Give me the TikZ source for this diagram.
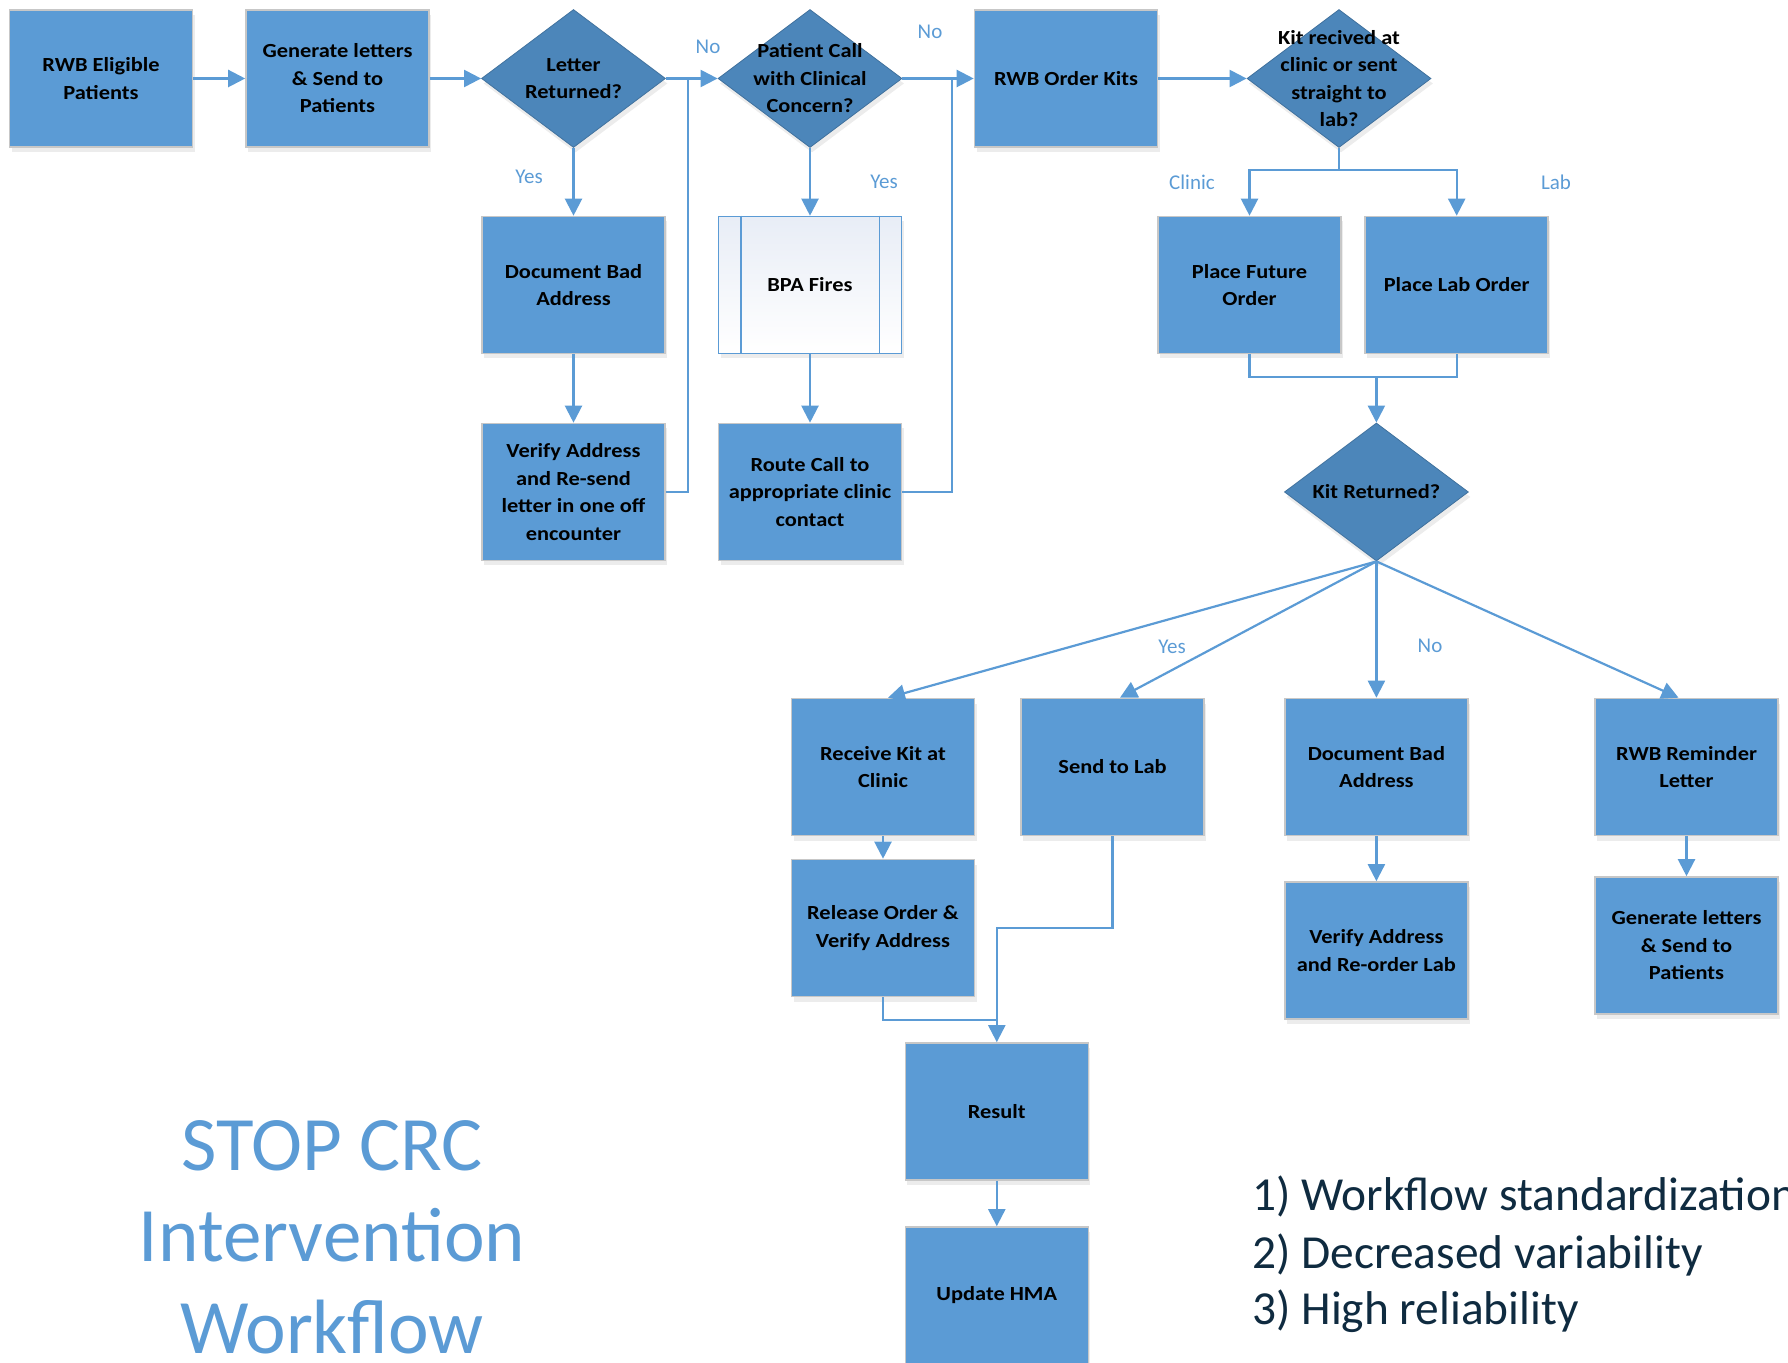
\documentclass[tikz,border=0pt]{standalone}
\usepackage{fontspec}
\setmainfont{Carlito}
\newfontfamily\boxfont[FakeStretch=1.12]{Carlito}
\usetikzlibrary{shapes.geometric,arrows.meta,shadows}
\definecolor{boxblue}{HTML}{5B9BD5}
\definecolor{diablue}{HTML}{4C86BA}
\definecolor{linecol}{HTML}{5B9BD5}
\definecolor{navy}{HTML}{0F2B40}
\definecolor{bpalight}{HTML}{E8EDF6}
\begin{document}
\begin{tikzpicture}[x=0.5pt,y=-0.5pt,
  box/.style={draw=black!22, line width=0.8pt, fill=boxblue, minimum width=91.5pt, minimum height=68.5pt,
    inner sep=0pt, align=center, font=\boxfont\bfseries\fontsize{10}{13.75}\selectfont,
    drop shadow={shadow xshift=1pt, shadow yshift=-2.5pt, opacity=0.15}},
  dia/.style={diamond, draw=diablue!85!black, line width=0.4pt, fill=diablue, minimum width=92pt,
    minimum height=69pt, inner sep=0pt, drop shadow={shadow xshift=1pt, shadow yshift=-2.5pt, opacity=0.15}},
  dtext/.style={align=center, inner sep=0pt, font=\boxfont\bfseries\fontsize{10}{13.75}\selectfont},
  conn/.style={draw=linecol, line width=1.1pt},
  arr/.style={conn, -{Triangle[length=8.5pt,width=8.5pt]}},
  lbl/.style={text=linecol, inner sep=0pt, font=\fontsize{10.5}{12}\selectfont},
  ttl/.style={text=boxblue, inner sep=0pt, anchor=base, font=\fontsize{38.5}{45}\selectfont},
  lst/.style={text=navy, inner sep=0pt, anchor=base west, font=\fontsize{23.7}{28}\selectfont},
]
\path[use as bounding box, clip] (0,0) rectangle (1788,1363);

% top row
\node[box] (A) at (101,78.5) {RWB Eligible\\Patients};
\node[box] (B) at (337.5,78.5) {Generate letters\\\& Send to\\Patients};
\node[dia] (C) at (573.5,78.5) {};
\node[dtext] (Ct) at (C) {Letter\\Returned?};
\node[dia] (D) at (810,78.5) {};
\node[dtext] (Dt) at (D) {Patient Call\\with Clinical\\Concern?};
\node[box] (G) at (1066,78.5) {RWB Order Kits};
\node[dia] (K) at (1339,78.5) {};
\node[dtext] (Kt) at (K) {Kit recived at\\clinic or sent\\straight to\\lab?};

% second / third rows
\node[box] (E) at (573.5,285) {Document Bad\\Address};
\node[box] (F) at (573.5,492) {Verify Address\\and Re-send\\letter in one off\\encounter};
\node[box, draw=linecol, shading=axis, shading angle=135, top color=bpalight, bottom color=white] (H) at (810,285) {BPA Fires};
\draw[draw=linecol, line width=0.8pt] ([xshift=11.5pt]H.north west) -- ([xshift=11.5pt]H.south west);
\draw[draw=linecol, line width=0.8pt] ([xshift=-11.5pt]H.north east) -- ([xshift=-11.5pt]H.south east);
\node[box] (I) at (810,492) {Route Call to\\appropriate clinic\\contact};
\node[box] (PFO) at (1249.5,285) {Place Future\\Order};
\node[box] (PLO) at (1456.7,285) {Place Lab Order};
\node[dia] (M) at (1376.4,492) {};
\node[dtext] (Mt) at (M) {Kit Returned?};

% bottom rows
\node[box] (R1) at (883,767) {Receive Kit at\\Clinic};
\node[box] (R2) at (1112.5,767) {Send to Lab};
\node[box] (R3) at (1376.4,767) {Document Bad\\Address};
\node[box] (R4) at (1686.5,767) {RWB Reminder\\Letter};
\node[box] (S1) at (883,928) {Release Order \&\\Verify Address};
\node[box] (S3) at (1376.4,950.5) {Verify Address\\and Re-order Lab};
\node[box] (S4) at (1686.5,945.5) {Generate letters\\\& Send to\\Patients};
\node[box] (T) at (996.8,1111.5) {Result};
\node[box] (U) at (996.8,1295.5) {Update HMA};

% connectors
\draw[arr] (A) -- (B);
\draw[arr] (B) -- (C);
\draw[arr] (C) -- (D);
\draw[arr] (C) -- (E);
\draw[arr] (E) -- (F);
\coordinate (j1) at (688,78.5);
\draw[conn] (F.east) -| (j1);
\draw[arr] (D) -- (G);
\draw[arr] (D) -- (H);
\draw[arr] (H) -- (I);
\coordinate (j2) at (952,78.5);
\draw[conn] (I.east) -| (j2);
\draw[arr] (G) -- (K);
\coordinate (kb) at (1339,170);
\draw[conn] (K.south) -- (kb);
\draw[arr] (kb) -| (PFO.north);
\draw[arr] (kb) -| (PLO.north);
\coordinate (mb) at (1376.4,377);
\draw[conn] (PFO.south) |- (mb);
\draw[conn] (PLO.south) |- (mb);
\draw[arr] (mb) -- (M.north);
\draw[arr] (M.south) -- ([xshift=2.5pt]R1.north);
\draw[arr] (M.south) -- ([xshift=3.75pt]R2.north);
\draw[arr] (M.south) -- (R3.north);
\draw[arr] (M.south) -- ([xshift=-4pt]R4.north);
\draw[arr] (R1) -- (S1);
\coordinate (t1) at (996.8,928);
\draw[arr] (R2.south) |- (t1) -- (T.north);
\coordinate (t2) at (996.8,1020);
\draw[conn] (S1.south) |- (t2);
\draw[arr] (T) -- (U);
\draw[arr] (R3) -- (S3);
\draw[arr] (R4) -- (S4);

% connector labels
\node[lbl] (l1) at (708,47) {No};
\node[lbl] (l2) at (930,32) {No};
\node[lbl] (l3) at (529,177) {Yes};
\node[lbl] (l4) at (884,182) {Yes};
\node[lbl] (l5) at (1192,182) {Clinic};
\node[lbl] (l6) at (1556,182) {Lab};
\node[lbl] (l7) at (1172,647) {Yes};
\node[lbl] (l8) at (1430,646) {No};

% title
\node[ttl] (t1a) at (332,1170) {STOP CRC};
\node[ttl] (t1b) at (332,1261.5) {Intervention};
\node[ttl] (t1c) at (332,1353) {Workflow};

% list
\node[lst] (p1) at (1252,1210.5) {1) Workflow standardization};
\node[lst] (p2) at (1252,1268) {2) Decreased variability};
\node[lst] (p3) at (1252,1324.6) {3) High reliability};
\end{tikzpicture}
\end{document}
